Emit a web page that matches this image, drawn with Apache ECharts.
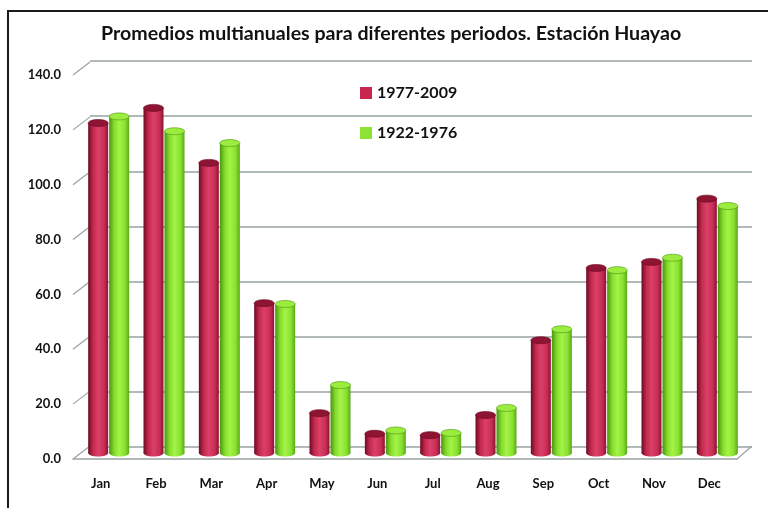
<!DOCTYPE html>
<html>
<head>
<meta charset="utf-8">
<script src="https://cdn.jsdelivr.net/npm/echarts@6/dist/echarts.min.js"></script>
<style>
  html, body { margin: 0; padding: 0; background: #fff; }
  #chart { width: 768px; height: 508px; }
</style>
</head>
<body>
<div id="chart"></div>
<script>
// data
const months = ['Jan', 'Feb', 'Mar', 'Apr', 'May', 'Jun', 'Jul', 'Aug', 'Sep', 'Oct', 'Nov', 'Dec']
const p1977 = [120.0, 125.5, 105.5, 54.5, 14.5, 7.0, 6.5, 13.8, 41.0, 67.3, 69.5, 92.5]
const p1922 = [122.4, 117.0, 112.7, 54.2, 24.7, 8.2, 7.3, 16.4, 45.0, 66.5, 71.0, 89.8]
const yTicks = [0, 20, 40, 60, 80, 100, 120, 140]

const gridColor = '#98a2a2'
const font = 'Lato, "Noto Sans", sans-serif'

// cylinder look
const redGrad = ['#6e0a22', '#c22a50', '#dc4068', '#c72e55', '#8c1232']
const greenGrad = ['#4a9410', '#84dc2c', '#a4f448', '#88e030', '#5aa818']

function grad(c) {
  return new echarts.graphic.LinearGradient(0, 0, 1, 0, [
    { offset: 0, color: c[0] },
    { offset: 0.25, color: c[1] },
    { offset: 0.5, color: c[2] },
    { offset: 0.8, color: c[3] },
    { offset: 1, color: c[4] }
  ])
}

function cylinder(offset, cols, topCol) {
  return function (params, api) {
    const top = api.coord([api.value(0), api.value(1)])
    const base = api.coord([api.value(0), 0])
    const cx = top[0] + offset
    const w = 20, ry = 3.5
    return {
      type: 'group',
      children: [
        { type: 'ellipse', shape: { cx: cx, cy: base[1], rx: w / 2, ry: ry }, style: { fill: grad(cols) } },
        { type: 'rect', shape: { x: cx - w / 2, y: top[1], width: w, height: base[1] - top[1] }, style: { fill: grad(cols) } },
        { type: 'ellipse', shape: { cx: cx, cy: top[1], rx: w / 2, ry: ry }, style: { fill: topCol, stroke: cols[0], lineWidth: 0.6 } }
      ]
    }
  }
}

const chart = echarts.init(document.getElementById('chart'))

chart.setOption({
  backgroundColor: '#fff',
  animation: false,
  title: {
    text: 'Promedios multianuales para diferentes periodos. Estación Huayao',
    left: 96,
    top: 19,
    textStyle: { fontFamily: font, fontWeight: 'bold', fontSize: 19.6, color: '#111' }
  },
  legend: {
    orient: 'vertical',
    left: 355,
    top: 80,
    itemGap: 24,
    itemWidth: 12,
    itemHeight: 12,
    icon: 'rect',
    textStyle: { fontFamily: font, fontWeight: 'bold', fontSize: 16, color: '#111' },
    data: ['1977-2009', '1922-1976']
  },
  graphic: [
    { type: 'rect', shape: { x: 8, y: 11, width: 800, height: 520 }, style: { fill: null, stroke: '#1a1a1a', lineWidth: 2 }, silent: true }
  ],
  grid: [
    // front: labels and floor edge
    { left: 73, right: 31, top: 75, bottom: 49 },
    // back wall
    { left: 90, right: 16, top: 61, bottom: 61 },
    // bars, half way in depth
    { left: 81, right: 23, top: 68, bottom: 55 }
  ],
  xAxis: [
    {
      gridIndex: 0, type: 'category', data: months,
      axisLine: { show: true, lineStyle: { color: gridColor, width: 1.5 } },
      axisTick: { show: false },
      axisLabel: { margin: 18, fontFamily: font, fontWeight: 'bold', fontSize: 13, color: '#111' }
    },
    { gridIndex: 1, type: 'category', data: months, show: false },
    { gridIndex: 2, type: 'category', data: months, show: false }
  ],
  yAxis: [
    {
      gridIndex: 0, type: 'value', min: 0, max: 140, interval: 20,
      axisLine: { show: false }, axisTick: { show: false }, splitLine: { show: false },
      axisLabel: { margin: 12, fontFamily: font, fontWeight: 'bold', fontSize: 13, color: '#111', formatter: v => v.toFixed(1) }
    },
    {
      gridIndex: 1, type: 'value', min: 0, max: 140, interval: 20,
      axisLine: { show: false }, axisTick: { show: false }, axisLabel: { show: false },
      splitLine: { show: true, lineStyle: { color: gridColor, width: 1.5 } }
    },
    { gridIndex: 2, type: 'value', min: 0, max: 140, interval: 20, show: false, splitLine: { show: false } }
  ],
  series: [
    {
      // diagonal edges joining front ticks to the back wall
      type: 'custom', xAxisIndex: 0, yAxisIndex: 0, silent: true,
      data: yTicks.map(v => [0, v]),
      renderItem: function (params, api) {
        const cs = params.coordSys
        const y = api.coord([0, api.value(1)])[1]
        const kids = [{ type: 'line', shape: { x1: cs.x, y1: y, x2: cs.x + 17, y2: y - 13 }, style: { stroke: gridColor, lineWidth: 1.2 } }]
        if (api.value(1) === 0) {
          kids.push({ type: 'line', shape: { x1: cs.x + cs.width, y1: y, x2: cs.x + cs.width + 15, y2: y - 13 }, style: { stroke: gridColor, lineWidth: 1.2 } })
        }
        return { type: 'group', children: kids }
      },
      z: 1
    },
    {
      name: '1977-2009', type: 'custom', xAxisIndex: 2, yAxisIndex: 2,
      itemStyle: { color: '#c8264f' },
      data: p1977.map((v, i) => [i, v]),
      renderItem: cylinder(-10.5, redGrad, '#8e1434'),
      z: 3
    },
    {
      name: '1922-1976', type: 'custom', xAxisIndex: 2, yAxisIndex: 2,
      itemStyle: { color: '#8ee234' },
      data: p1922.map((v, i) => [i, v]),
      renderItem: cylinder(10.5, greenGrad, '#9cec40'),
      z: 3
    }
  ]
})
</script>
</body>
</html>
